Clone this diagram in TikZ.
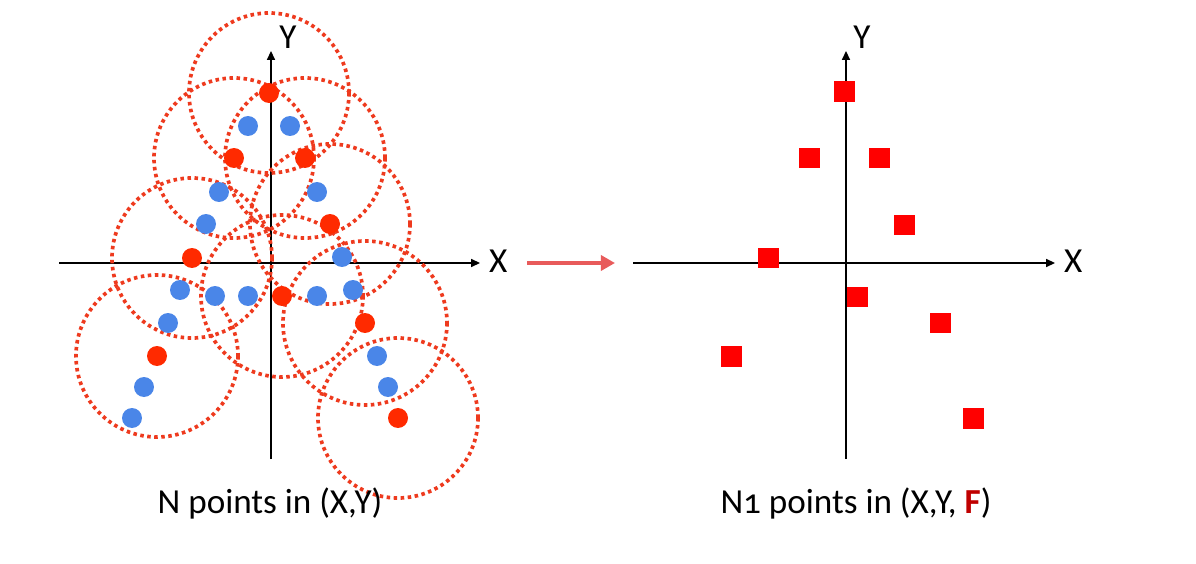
\documentclass[tikz,border=0pt]{standalone}
\usepackage{fontspec}
\setmainfont{Carlito}
\usepackage{xcolor}
\usepackage{tikz}
\usetikzlibrary{arrows.meta}
\definecolor{PtRed}{HTML}{FF2A00}
\definecolor{PtBlue}{HTML}{4A86E8}
\definecolor{NbRed}{HTML}{EE3A1E}
\definecolor{SqRed}{HTML}{FF0000}
\definecolor{MapRed}{HTML}{E85B5B}
\definecolor{FeatRed}{HTML}{C00000}
\tikzset{
  rdot/.style={circle,fill=PtRed,inner sep=0pt,minimum size=0.4cm},
  bdot/.style={circle,fill=PtBlue,inner sep=0pt,minimum size=0.4cm},
  nbhd/.style={NbRed,line width=2.1pt,dash pattern=on 2pt off 2pt},
  sqpt/.style={rectangle,fill=SqRed,inner sep=0pt,minimum size=0.42cm},
  axis/.style={black,line width=0.85pt,-{Triangle[length=5pt,width=4.5pt]}},
  lbl/.style={font=\fontsize{20}{24}\selectfont},
}

\begin{document}
\begin{tikzpicture}[x=0.02cm,y=-0.02cm]
\path[use as bounding box] (0,0) rectangle (1196,564);
% left panel: axes
\coordinate (lxa) at (59,263);
\coordinate (lxb) at (480,263);
\coordinate (lya) at (271,459);
\coordinate (lyb) at (271,51);
\draw[axis] (lxa) -- (lxb);
\draw[axis] (lya) -- (lyb);
\node[lbl,anchor=west] (lxl) at (483,261) {X};
\node[lbl] (lyl) at (288,37) {Y};
% sampled centres
\coordinate (c1) at (269,93);
\coordinate (c2) at (234,158);
\coordinate (c3) at (305,158);
\coordinate (c4) at (330,224);
\coordinate (c5) at (192,258);
\coordinate (c6) at (282,296);
\coordinate (c7) at (365,323);
\coordinate (c8) at (157,356);
\coordinate (c9) at (398,418);
% neighbourhoods
\draw[nbhd] (c1) circle[radius=80];
\draw[nbhd] (c2) circle[radius=80];
\draw[nbhd] (c3) circle[radius=80];
\draw[nbhd] (c4) circle[radius=80];
\draw[nbhd] (c5) circle[radius=80];
\draw[nbhd] (c6) circle[radius=81];
\draw[nbhd] (c7) circle[radius=82];
\draw[nbhd] (c8) circle[radius=81];
\draw[nbhd] (c9) circle[radius=80];
% other points
\node[bdot] (b1) at (248,126) {};
\node[bdot] (b2) at (290,126) {};
\node[bdot] (b3) at (219,192) {};
\node[bdot] (b4) at (317,192) {};
\node[bdot] (b5) at (206,224) {};
\node[bdot] (b6) at (342,257) {};
\node[bdot] (b7) at (180,290) {};
\node[bdot] (b8) at (215,296) {};
\node[bdot] (b9) at (248,296) {};
\node[bdot] (b10) at (317,296) {};
\node[bdot] (b11) at (353,290) {};
\node[bdot] (b12) at (168,323) {};
\node[bdot] (b13) at (377,356) {};
\node[bdot] (b14) at (388,387) {};
\node[bdot] (b15) at (144,387) {};
\node[bdot] (b16) at (132,418) {};
\node[rdot] (r1) at (c1) {};
\node[rdot] (r2) at (c2) {};
\node[rdot] (r3) at (c3) {};
\node[rdot] (r4) at (c4) {};
\node[rdot] (r5) at (c5) {};
\node[rdot] (r6) at (c6) {};
\node[rdot] (r7) at (c7) {};
\node[rdot] (r8) at (c8) {};
\node[rdot] (r9) at (c9) {};
\node[lbl] (lcap) at (270,503) {N points in (X,Y)};
% mapping arrow
\coordinate (ma) at (527,263);
\coordinate (mb) at (615,263);
\draw[MapRed,line width=2.2pt,-{Triangle[length=8pt,width=8.5pt]}] (ma) -- (mb);
% right panel: axes
\coordinate (rxa) at (633,263);
\coordinate (rxb) at (1055,263);
\coordinate (rya) at (846,459);
\coordinate (ryb) at (846,51);
\draw[axis] (rxa) -- (rxb);
\draw[axis] (rya) -- (ryb);
\node[lbl,anchor=west] (rxl) at (1058,261) {X};
\node[lbl] (ryl) at (862,37) {Y};
% grouped points
\node[sqpt] (s1) at (844,92) {};
\node[sqpt] (s2) at (809,158) {};
\node[sqpt] (s3) at (879,158) {};
\node[sqpt] (s4) at (904,225) {};
\node[sqpt] (s5) at (768,258) {};
\node[sqpt] (s6) at (857,297) {};
\node[sqpt] (s7) at (940,323) {};
\node[sqpt] (s8) at (731,356) {};
\node[sqpt] (s9) at (973,418) {};
\node[lbl] (rcap) at (856,503) {N{\addfontfeature{Numbers=OldStyle}1} points in (X,Y, \textcolor{FeatRed}{\textbf{F}})};
\end{tikzpicture}
\end{document}
